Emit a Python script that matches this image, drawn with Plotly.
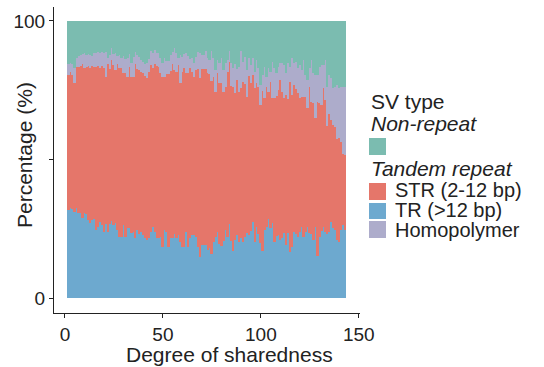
import numpy as np
import plotly.graph_objects as go

# Degree of sharedness (one bar per degree)
degrees = list(range(2, 144))

# Read-off boundaries (cumulative %, bottom to top)
# top of TR (>12 bp) layer
tr_top = [31.8, 32.4, 32.1, 30.9, 32.4, 30.6, 30.6, 28.8, 30.6, 30.3,
          28.2, 27.0, 28.2, 28.5, 24.5, 25.8, 27.3, 26.4, 23.7, 26.6,
          23.7, 26.6, 27.8, 26.4, 27.0, 24.5, 22.1, 22.1, 26.4, 22.1,
          25.1, 25.1, 23.3, 23.7, 21.8, 24.5, 23.0, 23.7, 22.7, 21.8,
          20.9, 21.8, 23.7, 25.8, 23.9, 21.5, 21.8, 22.1, 18.5, 24.5,
          23.7, 18.5, 21.5, 21.5, 23.0, 21.5, 22.7, 20.3, 18.5, 18.5,
          23.7, 18.5, 21.8, 22.7, 22.7, 22.1, 18.5, 14.9, 19.1, 19.1,
          19.1, 17.3, 17.9, 15.8, 20.3, 22.1, 23.7, 19.4, 18.9, 20.6,
          24.5, 22.1, 26.6, 20.6, 17.0, 20.9, 22.7, 20.3, 21.8, 20.3,
          22.1, 23.3, 22.7, 24.2, 27.3, 20.3, 25.8, 23.0, 19.7, 17.0,
          24.5, 25.8, 28.5, 25.4, 27.0, 20.1, 22.5, 22.7, 20.9, 21.8,
          23.3, 19.1, 23.3, 16.7, 18.5, 23.7, 23.0, 22.1, 23.7, 25.8,
          22.1, 23.7, 25.8, 23.3, 23.0, 20.9, 25.8, 15.3, 22.1, 24.2,
          25.6, 23.9, 23.0, 23.7, 27.3, 25.4, 24.7, 20.9, 20.3, 24.5,
          26.4, 24.5]
# top of STR (2-12 bp) layer
str_top = [80.5, 81.4, 80.5, 77.7, 83.5, 83.5, 83.7, 84.4, 82.9, 83.5,
           83.7, 82.9, 83.7, 83.5, 83.2, 83.7, 82.9, 83.7, 82.9, 79.9,
           84.4, 82.5, 85.9, 84.1, 82.3, 84.4, 82.9, 82.9, 81.3, 81.3,
           79.9, 83.5, 79.9, 79.6, 84.4, 82.5, 82.3, 81.7, 81.1, 80.1,
           79.3, 81.7, 84.1, 82.9, 84.4, 83.7, 83.2, 81.1, 79.9, 79.9,
           80.7, 80.7, 82.0, 84.4, 82.3, 81.7, 84.1, 77.5, 81.7, 82.9,
           81.1, 81.1, 82.9, 81.7, 79.9, 82.3, 82.5, 79.3, 82.5, 82.5,
           82.6, 81.1, 80.7, 78.3, 79.9, 74.5, 81.1, 77.5, 77.5, 74.5,
           76.3, 81.7, 85.3, 76.6, 76.3, 73.9, 78.7, 74.5, 75.7, 78.1,
           77.1, 72.7, 80.2, 77.5, 80.5, 75.7, 77.5, 76.3, 69.6, 74.7,
           72.3, 76.3, 74.5, 78.1, 72.3, 72.1, 73.0, 75.1, 78.7, 74.5,
           72.1, 73.3, 71.8, 78.1, 73.3, 76.9, 75.4, 73.9, 72.3, 72.7,
           72.7, 72.7, 68.4, 76.3, 70.9, 70.2, 65.1, 70.6, 70.2, 69.6,
           75.9, 71.5, 62.2, 66.3, 64.2, 62.4, 61.8, 57.4, 57.6, 56.2,
           51.8, 51.5]
# top of Homopolymer layer (all tandem repeats)
homo_top = [84.4, 84.7, 84.4, 82.9, 86.5, 87.3, 87.7, 88.0, 88.3, 87.7,
            88.0, 87.7, 87.3, 88.3, 88.5, 88.9, 88.5, 88.9, 88.3, 88.9,
            86.5, 87.7, 90.1, 88.0, 88.3, 87.3, 87.7, 86.5, 87.3, 86.1,
            86.5, 88.0, 84.9, 86.8, 88.9, 87.7, 87.1, 85.9, 85.3, 84.4,
            84.7, 86.1, 89.2, 88.3, 89.5, 88.5, 88.5, 86.5, 84.7, 86.5,
            85.6, 85.6, 87.7, 88.9, 90.1, 88.3, 86.5, 87.7, 86.8, 88.0,
            88.5, 87.3, 86.1, 86.5, 84.7, 87.1, 88.9, 88.3, 87.7, 87.7,
            89.0, 86.5, 85.9, 89.0, 86.5, 82.3, 85.9, 84.7, 86.5, 82.3,
            84.7, 85.9, 89.0, 84.7, 82.9, 84.3, 82.6, 83.5, 89.0, 85.3,
            87.1, 82.3, 86.7, 84.1, 86.5, 81.7, 85.9, 83.1, 76.9, 80.5,
            83.5, 79.9, 82.9, 81.7, 85.3, 82.9, 81.1, 83.5, 84.7, 84.7,
            84.1, 81.1, 84.7, 83.5, 86.5, 84.7, 85.3, 82.9, 84.1, 82.3,
            85.9, 80.5, 78.7, 82.9, 85.9, 81.1, 80.5, 80.5, 83.5, 84.1,
            84.1, 85.9, 76.3, 80.5, 79.3, 75.7, 76.3, 76.9, 75.7, 76.3,
            76.3, 76.3]

x_ticks = [0, 50, 100, 150]
y_ticks = [0, 50, 100]
y_ticktext = ["0", "", "100"]

series_names = ["TR (>12 bp)", "STR (2-12 bp)", "Homopolymer", "Non-repeat"]
colors = {"TR (>12 bp)": "#6DA9CF", "STR (2-12 bp)": "#E5766A",
          "Homopolymer": "#ADACCB", "Non-repeat": "#7BBCB0"}

tr = np.array(tr_top)
st = np.array(str_top)
ho = np.array(homo_top)
layers = {
    "TR (>12 bp)": tr,
    "STR (2-12 bp)": st - tr,
    "Homopolymer": ho - st,
    "Non-repeat": 100 - ho,
}

fig = go.Figure()
for name in series_names:
    fig.add_trace(go.Bar(x=degrees, y=layers[name], name=name, width=1,
                         marker=dict(color=colors[name], line=dict(width=0)),
                         showlegend=False))

FONT = "Liberation Sans, Arial, Helvetica, sans-serif"
TXT = "#222222"

L, R, T, B = 54, 360, 7, 313
W, H = R - L, B - T

def px(x):
    return (x - L) / W

def py(y):
    return (B - y) / H

fig.update_layout(
    width=544, height=367, autosize=False,
    margin=dict(l=L, r=544 - R, t=T, b=367 - B, pad=0),
    barmode="stack", bargap=0,
    paper_bgcolor="white", plot_bgcolor="white",
    font=dict(family=FONT, color=TXT),
    xaxis=dict(range=[-5.6, 150.6], tickvals=x_ticks, ticks="outside", ticklen=4,
               tickwidth=1, tickcolor="#222", showline=True, linecolor="#222",
               linewidth=1, showgrid=False, zeroline=False,
               tickfont=dict(size=19, color=TXT, family=FONT)),
    yaxis=dict(range=[-5.4, 105], tickvals=y_ticks, ticktext=y_ticktext,
               ticks="outside", ticklen=4, tickwidth=1, tickcolor="#222",
               showline=True, linecolor="#222", linewidth=1, showgrid=False,
               zeroline=False, tickfont=dict(size=19, color=TXT, family=FONT)),
)

ann = []
ann.append(dict(text="Degree of sharedness", x=px(229), y=py(354), xref="paper",
                yref="paper", showarrow=False, xanchor="center", yanchor="middle",
                font=dict(size=21, color=TXT, family=FONT)))
ann.append(dict(text="Percentage (%)", x=px(25), y=py(155), xref="paper",
                yref="paper", showarrow=False, xanchor="center", yanchor="middle",
                textangle=-90, font=dict(size=21, color=TXT, family=FONT)))

# Legend (manual)
legend_text = [("SV type", 369, 101, False, 21), ("Non-repeat", 369, 124, True, 21),
               ("Tandem repeat", 369, 168, True, 21), ("STR (2-12 bp)", 393, 190, False, 20),
               ("TR (>12 bp)", 393, 210, False, 20), ("Homopolymer", 393, 230, False, 20)]
for t, lx, ly, ital, fs in legend_text:
    ann.append(dict(text=("<i>%s</i>" % t) if ital else t, x=px(lx), y=py(ly),
                    xref="paper", yref="paper", showarrow=False, xanchor="left",
                    yanchor="middle", font=dict(size=fs, color=TXT, family=FONT)))
fig.update_layout(annotations=ann)

keys = [("Non-repeat", 138, 155), ("STR (2-12 bp)", 183, 200),
        ("TR (>12 bp)", 203, 219), ("Homopolymer", 221, 238)]
for name, y0, y1 in keys:
    fig.add_shape(type="rect", xref="paper", yref="paper", x0=px(369), x1=px(386),
                  y0=py(y1), y1=py(y0), fillcolor=colors[name], line=dict(width=0))

fig.write_html("out.html")
